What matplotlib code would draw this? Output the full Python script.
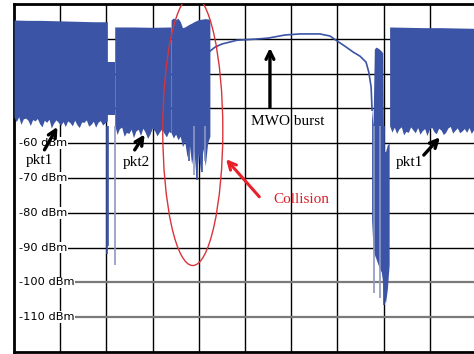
import numpy as np
import matplotlib.pyplot as plt
from matplotlib.patches import Ellipse

# sweep is 10 divisions wide, level axis in dBm
blue = '#3b54a5'
light = '#8e98c4'

# first pkt1 burst
pkt1a_span = (0.0, 2.02)
pkt1a_top = [-24.6, -24.7, -24.7, -24.8, -24.9, -25.0, -25.1, -25.1]
pkt1a_bot = [-52.5, -53.8, -52.4, -54.6, -53.0, -52.8, -53.4, -54.9, -53.2, -53.6,
             -52.9, -54.4, -55.3, -53.4, -54.0, -53.1, -55.6, -54.2, -53.3, -54.0,
             -54.9, -53.8, -55.2, -53.6, -54.1, -55.0, -53.4, -54.7, -55.5, -53.9,
             -54.0, -53.3, -55.1, -54.6, -53.7, -55.4, -54.0, -53.5, -54.8, -54.1, -53.6]

# short piece between pkt1 and pkt2
gap_span = (2.02, 2.18)
gap_top = [-36.8, -36.8]
gap_bot = [-52.0, -52.0]

# pkt2
pkt2_span = (2.18, 3.40)
pkt2_top = [-26.6, -26.6, -26.7, -26.6]
pkt2_bot = [-54.8, -57.5, -55.8, -55.4, -58.0, -56.9, -57.2, -56.0, -58.4, -56.5,
            -56.0, -57.8, -55.7, -56.9, -58.6, -57.4, -55.6, -56.4, -57.9, -56.8,
            -55.9, -57.1, -58.2, -56.7, -57.0]

# collision part (pkt2 + MWO)
coll_span = (3.40, 4.24)
coll_top = [-24.6, -24.0, -24.5, -24.1, -25.0, -26.8, -26.6, -26.2, -25.8, -25.5,
            -25.1, -24.8, -24.5, -24.4, -24.3, -24.2, -24.3, -24.4]
coll_bot = [-57.0, -58.5, -57.4, -59.0, -58.0, -61.0, -59.5, -64.0, -60.5, -66.0,
            -62.0, -70.5, -63.0, -68.5, -61.5, -66.5, -60.0, -58.0]

# MWO burst trace
mwo_x = [4.22, 4.35, 4.50, 4.83, 5.22, 5.50, 5.87, 6.19, 6.62, 6.84, 6.99,
         7.16, 7.34, 7.49, 7.62, 7.68, 7.73, 7.75]
mwo_y = [-33.8, -32.4, -31.5, -30.4, -30.1, -29.8, -28.9, -28.6, -28.6, -29.2,
         -30.6, -32.1, -33.8, -35.0, -36.7, -39.6, -43.9, -50.5]

# end of MWO burst
tail_x = [7.74, 7.77, 7.80, 7.83, 7.87, 7.91, 7.95, 7.98, 8.00, 8.04, 8.08, 8.12]
tail_top = [-50, -55, -33, -32.4, -32.6, -33, -33.5, -34, -62, -62.5, -60.5, -60]
tail_bot = [-82, -90, -92, -93, -94.5, -96, -97, -100, -104, -106, -102, -95]

# second pkt1 burst
pkt1b_span = (8.13, 10.0)
pkt1b_top = [-26.6, -26.7, -26.8, -26.8, -26.9, -27.0]
pkt1b_bot = [-55.0, -56.8, -55.4, -57.2, -55.9, -55.3, -57.6, -56.6, -56.9, -55.3,
             -56.2, -57.0, -55.5, -57.4, -56.4, -55.8, -57.8, -56.0, -55.4, -56.7,
             -57.3, -55.7, -56.2, -57.5, -56.9, -55.6, -55.2, -57.1, -56.3, -55.6,
             -57.0, -56.5, -55.8, -56.9, -55.5, -57.2, -56.1, -55.7]

# thin deep spikes (x, lowest level, colour)
spike_x = [2.02, 2.035, 2.19, 3.78, 3.90, 3.96, 4.06, 4.14, 7.79, 7.93, 8.01]
spike_y = [-91.7, -89.5, -95.1, -65.0, -69.0, -70.5, -68.3, -65.0, -103.0, -104.5, -106.5]
spike_c = [blue, blue, light, blue, light, blue, blue, light, light, light, blue]

level_labels = [-60, -70, -80, -90, -100, -110]


def burst(ax, span, top, bot):
    x = np.linspace(span[0], span[1], len(bot))
    xt = np.linspace(span[0], span[1], len(top))
    ax.fill_between(x, bot, np.interp(x, xt, top), color=blue, lw=0, zorder=3)


fig = plt.figure(figsize=(4.74, 3.54), dpi=100)
ax = fig.add_axes([14 / 474, 2 / 354, 462 / 474, 348 / 354])
ax.set_xlim(0, 10)
ax.set_ylim(-120, -20)
ax.set_xticks([])
ax.set_yticks([])

for v in range(1, 10):
    ax.axvline(v, color='black', lw=1, zorder=1)
for lev in range(-110, -20, 10):
    start = 0.5 if lev in level_labels else 0
    if lev <= -100:
        ax.hlines(lev, start, 10, color='#7a7a7a', lw=1.6, zorder=1)
    else:
        ax.hlines(lev, start, 10, color='black', lw=1, zorder=1)
for s in ax.spines.values():
    s.set_linewidth(2)

for lev in level_labels:
    ax.text(0.11, lev, f'{lev} dBm', fontsize=8.2, family='DejaVu Sans',
            ha='left', va='center', zorder=2,
            bbox=dict(facecolor='white', edgecolor='none', pad=0.6))

burst(ax, pkt1a_span, pkt1a_top, pkt1a_bot)
burst(ax, gap_span, gap_top, gap_bot)
burst(ax, pkt2_span, pkt2_top, pkt2_bot)
burst(ax, coll_span, coll_top, coll_bot)
burst(ax, pkt1b_span, pkt1b_top, pkt1b_bot)
ax.fill_between(tail_x, tail_bot, tail_top, color=blue, lw=0, zorder=3)
ax.plot(mwo_x, mwo_y, color=blue, lw=1.2, zorder=3)
ax.vlines(spike_x, -55, spike_y, colors=spike_c, lw=1.2, zorder=3)

ax.add_patch(Ellipse((3.87, -56.3), 1.30, 77.7, fill=False,
                     edgecolor='#d8343a', lw=1, zorder=4))

serif = 'Liberation Serif'
arrow_k = dict(arrowstyle='->', color='black', lw=2.4, mutation_scale=14)
ax.annotate('', xy=(0.97, -54.6), xytext=(0.63, -62.6), arrowprops=arrow_k, zorder=5)
ax.text(0.55, -65.0, 'pkt1', family=serif, fontsize=11, ha='center', va='center', zorder=5)
ax.annotate('', xy=(2.86, -56.8), xytext=(2.58, -62.6), arrowprops=arrow_k, zorder=5)
ax.text(2.64, -65.6, 'pkt2', family=serif, fontsize=11, ha='center', va='center', zorder=5)
ax.annotate('', xy=(5.54, -31.8), xytext=(5.54, -50.5), arrowprops=arrow_k, zorder=5)
ax.text(5.93, -53.7, 'MWO burst', family=serif, fontsize=11, ha='center', va='center', zorder=5)
ax.annotate('', xy=(9.26, -57.7), xytext=(8.83, -64.0), arrowprops=arrow_k, zorder=5)
ax.text(8.56, -65.6, 'pkt1', family=serif, fontsize=11, ha='center', va='center', zorder=5)
ax.annotate('', xy=(4.55, -64.0), xytext=(5.35, -76.0),
            arrowprops=dict(arrowstyle='->', color='#e8202a', lw=2.2, mutation_scale=14), zorder=5)
ax.text(6.21, -76.1, 'Collision', family=serif, fontsize=11, color='#d8202a',
        ha='center', va='center', zorder=5)

fig.savefig('out.png', dpi=100)
